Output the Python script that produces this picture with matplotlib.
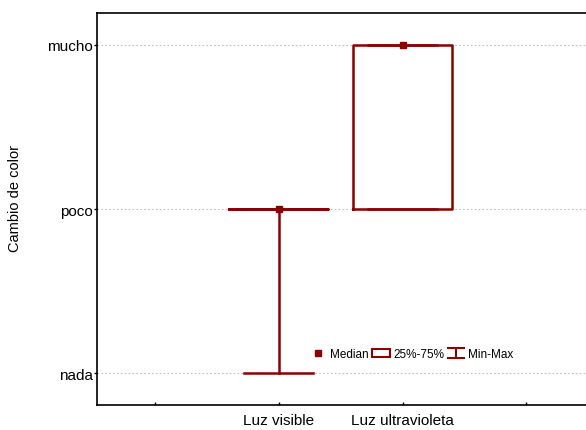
import matplotlib.pyplot as plt
from matplotlib.lines import Line2D
from matplotlib.patches import Patch
from matplotlib.path import Path

plt.rcParams['font.family'] = ['Liberation Sans', 'DejaVu Sans']

# data
groups = ['Luz visible', 'Luz ultravioleta']
levels = ['nada', 'poco', 'mucho']
medians = [1, 2]
q1 = [1, 1]
q3 = [1, 2]
mins = [0, 1]
maxs = [1, 2]

red = '#8B0000'

fig = plt.figure(figsize=(5.86, 4.31), dpi=100)
ax = fig.add_axes([0.1655, 0.058, 0.838, 0.9095])

stats = []
for i, g in enumerate(groups):
    stats.append(dict(label=g, med=medians[i], q1=q1[i], q3=q3[i],
                      whislo=mins[i], whishi=maxs[i], fliers=[]))

pos = [1, 2]
ax.bxp(stats, positions=pos, widths=0.8, capwidths=0.56, showfliers=False,
       boxprops=dict(color=red, linewidth=1.8),
       whiskerprops=dict(color=red, linewidth=1.8),
       capprops=dict(color=red, linewidth=1.8),
       medianprops=dict(linewidth=0), zorder=3)
ax.plot(pos, medians, 's', color=red, markersize=5, markeredgewidth=1, zorder=4)

ax.set_xlim(-0.47, 3.5)
ax.set_ylim(-0.195, 2.195)
ax.set_xticks([0, 1, 2, 3])
ax.set_xticklabels(['', groups[0], groups[1], ''])
ax.set_yticks([0, 1, 2])
ax.set_yticklabels(levels)
ax.yaxis.grid(True, linestyle=(0, (1.5, 2)), color='#c0c0c0', linewidth=0.8)
ax.set_axisbelow(True)
ax.tick_params(axis='both', labelsize=11, length=2.2, width=1)
ax.tick_params(axis='x', direction='in', pad=6)
ax.tick_params(axis='y', direction='out', pad=0.5)
ax.set_ylabel('Cambio de color', fontsize=10.5)
ax.yaxis.set_label_coords(-0.153, 0.53)
for s in ax.spines.values():
    s.set_linewidth(1.2)

# I-shaped marker for min-max
imark = Path([(-1, 0.55), (1, 0.55), (0, 0.55), (0, -0.55), (-1, -0.55), (1, -0.55)],
             [Path.MOVETO, Path.LINETO, Path.MOVETO, Path.LINETO, Path.MOVETO, Path.LINETO])
handles = [
    Line2D([], [], marker='s', color=red, linestyle='none', markersize=4.5),
    Patch(facecolor='white', edgecolor=red, linewidth=1.5),
    Line2D([], [], marker=imark, color=red, linestyle='none', markersize=13,
           markeredgewidth=1.5),
]
ax.legend(handles, ['Median', '25%-75%', 'Min-Max'], ncol=3, frameon=False,
          fontsize=8.5, loc='center left', bbox_to_anchor=(0.432, 0.13),
          borderaxespad=0, borderpad=0,
          handlelength=1.5, handletextpad=0.3, columnspacing=0.25,
          handleheight=0.7)

fig.savefig('out.png', dpi=100)
